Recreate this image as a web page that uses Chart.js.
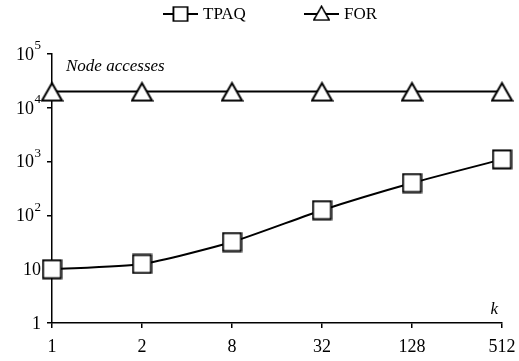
<!DOCTYPE html>
<html>
<head>
<meta charset="utf-8">
<script src="https://cdn.jsdelivr.net/npm/chart.js@4/dist/chart.umd.min.js"></script>
<style>
  html, body { margin: 0; padding: 0; background: #fff; }
  #wrap { width: 519px; height: 361px; }
</style>
</head>
<body>
<div id="wrap"><canvas id="myChart" width="519" height="361"></canvas></div>
<script>
let categories = ['1', '2', '8', '32', '128', '512']
let tpaq = [10, 12.5, 32, 125, 400, 1100]
let forValues = [20000, 20000, 20000, 20000, 20000, 20000]
let yTicks = [1, 10, 100, 1000, 10000, 100000]
let seriesNames = ['TPAQ', 'FOR']

const FONT = '"Liberation Serif", "DejaVu Serif", serif'
const sup = ['', '', '2', '3', '4', '5']

// markers drawn once on small canvases
function squareMarker() {
    let c = document.createElement('canvas')
    c.width = 21; c.height = 21
    let g = c.getContext('2d')
    g.fillStyle = '#fff'
    g.fillRect(1, 1, 19, 19)
    g.strokeStyle = '#000'
    g.lineWidth = 2
    g.strokeRect(1.5, 1.5, 18, 18)
    return c
}
function triangleMarker() {
    let c = document.createElement('canvas')
    c.width = 23; c.height = 21
    let g = c.getContext('2d')
    g.beginPath()
    g.moveTo(11.5, 2)
    g.lineTo(21.5, 19.5)
    g.lineTo(1.5, 19.5)
    g.closePath()
    g.fillStyle = '#fff'
    g.fill()
    g.strokeStyle = '#000'
    g.lineWidth = 2
    g.lineJoin = 'miter'
    g.stroke()
    return c
}
let sq = squareMarker()
let tri = triangleMarker()

let extras = {
    id: 'extras',
    afterDraw(chart) {
        let ctx = chart.ctx
        let y = chart.scales.y
        let area = chart.chartArea
        ctx.save()
        ctx.fillStyle = '#000'
        // y tick labels with exponents
        ctx.textBaseline = 'middle'
        ctx.textAlign = 'right'
        yTicks.forEach((v, i) => {
            let py = y.getPixelForValue(v)
            let e = sup[i]
            if (e) {
                ctx.font = '13px ' + FONT
                let ew = ctx.measureText(e).width
                ctx.fillText(e, 41, py - 8)
                ctx.font = '18px ' + FONT
                ctx.fillText('10', 41 - ew - 0.5, py + 1)
            } else {
                ctx.font = '18px ' + FONT
                ctx.fillText(i === 0 ? '1' : '10', 41, py + 1)
            }
        })
        // axis captions
        ctx.font = 'italic 17px ' + FONT
        ctx.textAlign = 'left'
        ctx.fillText('Node accesses', area.left + 14, area.top + 13)
        ctx.textAlign = 'right'
        ctx.fillText('k', area.right - 4, area.bottom - 13)
        // legend
        let ly = 14
        let items = [[163, sq, seriesNames[0]], [304, tri, seriesNames[1]]]
        ctx.strokeStyle = '#000'
        ctx.lineWidth = 2
        ctx.font = '17px ' + FONT
        ctx.textAlign = 'left'
        items.forEach(([lx, img, label]) => {
            ctx.beginPath()
            ctx.moveTo(lx, ly)
            ctx.lineTo(lx + 35, ly)
            ctx.stroke()
            let w = img.width * 0.78, h = img.height * 0.78
            let cy = img === tri ? ly - 1 : ly
            ctx.drawImage(img, lx + 17.5 - w / 2, cy - h / 2, w, h)
            ctx.fillText(label, lx + 40, ly + 1)
        })
        ctx.restore()
    }
}

let ctx = document.getElementById('myChart').getContext('2d')

let data = {
    labels: categories,
    datasets: [{
        label: seriesNames[0],
        data: tpaq,
        borderColor: '#000',
        borderWidth: 2,
        tension: 0.2,
        pointStyle: sq,
        pointRadius: 10
    }, {
        label: seriesNames[1],
        data: forValues,
        borderColor: '#000',
        borderWidth: 2,
        pointStyle: tri,
        pointRadius: 10
    }]
}

let options = {
    responsive: false,
    animation: false,
    layout: { padding: { top: 54, right: 17, left: 0, bottom: 0 } },
    plugins: { legend: { display: false }, tooltip: { enabled: false } },
    scales: {
        x: {
            type: 'category',
            offset: false,
            border: { color: '#000', width: 1.5 },
            grid: { drawOnChartArea: false, color: '#000', tickLength: 5, lineWidth: 1.5 },
            ticks: { color: '#000', font: { family: FONT, size: 18 }, padding: 8, maxRotation: 0 },
            afterFit(s) { s.height = 38; s.paddingLeft = 0; s.paddingRight = 0 }
        },
        y: {
            type: 'logarithmic',
            min: 1,
            max: 100000,
            border: { color: '#000', width: 1.5 },
            grid: { drawOnChartArea: false, color: '#000', tickLength: 5, lineWidth: 1.5 },
            ticks: { display: false },
            afterBuildTicks(s) { s.ticks = yTicks.map(v => ({ value: v })) },
            afterFit(s) { s.width = 52 }
        }
    }
}

let myChart = new Chart(ctx, { type: 'line', data: data, options: options, plugins: [extras] })
</script>
</body>
</html>
